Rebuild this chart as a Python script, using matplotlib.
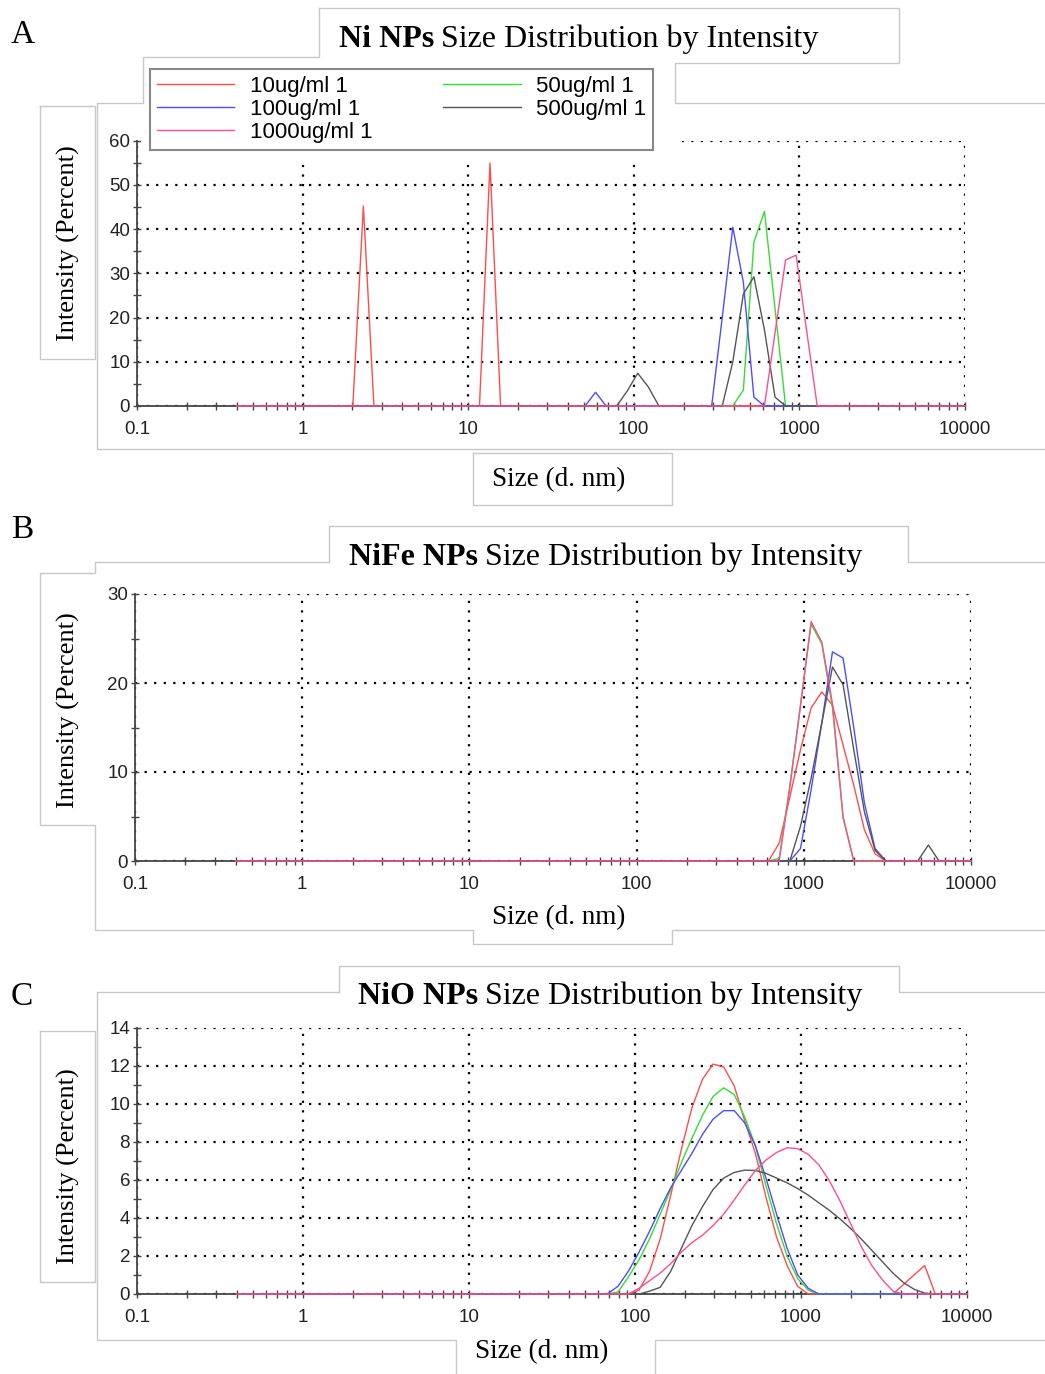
import matplotlib
matplotlib.use("Agg")
import matplotlib.pyplot as plt
from matplotlib.lines import Line2D
from matplotlib.patches import Rectangle
from matplotlib.ticker import (FixedLocator, FixedFormatter, MultipleLocator,
                               LogLocator, NullFormatter)

W, H = 1045, 1374

# size (d. nm) / intensity (%) pairs, one tuple per sample
# A - Ni NPs
ni_10 = ([0.4, 2.010, 2.328, 2.696, 11.70, 13.54, 15.69, 10000],
         [0, 0, 45.2, 0, 0, 54.9, 0, 0])
ni_50 = ([0.4, 396.1, 458.7, 531.2, 615.1, 712.4, 825.0, 10000],
         [0, 0, 3.6, 37, 44, 22, 0, 0])
ni_100 = ([0.4, 50.75, 58.77, 68.06, 295.3, 342.0, 396.1, 458.7, 531.2, 615.1, 10000],
          [0, 0, 3.1, 0, 0, 20, 40.4, 28, 2, 0, 0])
ni_500 = ([0.4, 78.82, 91.28, 105.7, 122.4, 141.8, 342.0, 396.1, 458.7, 531.2,
           615.1, 712.4, 825.0, 10000],
          [0, 0, 3.4, 7.4, 4.3, 0, 0, 10, 25.3, 29.2, 17.2, 2, 0, 0])
ni_1000 = ([0.4, 615.1, 712.4, 825.0, 955.4, 1106, 1281, 10000],
           [0, 0, 16.5, 33, 34.1, 17, 0, 0])

# B - NiFe NPs
nife_10 = ([0.4, 615.1, 712.4, 825.0, 955.4, 1106, 1281, 1484, 1718, 1990, 2305,
            2669, 3091, 10000],
           [0, 0, 2.0, 7.2, 12.5, 17.2, 19.0, 17.5, 13.0, 8.5, 3.5, 0.8, 0, 0])
nife_50 = ([0.4, 615.1, 712.4, 825.0, 955.4, 1106, 1281, 1484, 1718, 1990, 10000],
           [0, 0, 0.3, 8.5, 17.6, 26.6, 24.4, 17.2, 4.8, 0, 0])
nife_100 = ([0.4, 825.0, 955.4, 1106, 1281, 1484, 1718, 1990, 2305, 2669, 3091, 10000],
            [0, 0, 1.4, 8, 15.5, 23.5, 22.8, 15, 6.5, 1.4, 0, 0])
nife_500 = ([0.4, 825.0, 955.4, 1106, 1281, 1484, 1718, 1990, 2305, 2669, 3091,
             4801, 5560, 6439, 10000],
            [0, 0, 3.9, 9.3, 15.5, 21.8, 19.8, 12.5, 5.5, 1.2, 0, 0, 1.8, 0, 0])
nife_1000 = ([0.4, 712.4, 825.0, 955.4, 1106, 1281, 1484, 1718, 1990, 10000],
             [0, 0, 8.2, 17.4, 26.9, 24.6, 17.7, 5.0, 0, 0])

# C - NiO NPs
nio_10 = ([0.4, 91.28, 105.7, 122.4, 141.8, 164.2, 190.1, 220.2, 255.0, 295.3, 342.0,
           396.1, 458.7, 531.2, 615.1, 712.4, 825.0, 955.4, 1106, 3580, 4145,
           4801, 5560, 6439, 10000],
          [0, 0, 0.2, 1.2, 2.9, 5.2, 7.6, 9.8, 11.3, 12.1, 11.95, 10.95, 9.1, 7.4,
           5.1, 3.0, 1.5, 0.4, 0, 0, 0.5, 1.0, 1.5, 0, 0])
nio_50 = ([0.4, 68.06, 78.82, 91.28, 105.7, 122.4, 141.8, 164.2, 190.1, 220.2, 255.0,
           295.3, 342.0, 396.1, 458.7, 531.2, 615.1, 712.4, 825.0, 955.4, 1106,
           1281, 10000],
          [0, 0, 0.1, 0.9, 1.8, 2.9, 4.2, 5.5, 6.9, 8.2, 9.4, 10.4, 10.85, 10.5,
           9.3, 7.8, 5.7, 3.7, 2.0, 0.8, 0.2, 0, 0])
nio_100 = ([0.4, 68.06, 78.82, 91.28, 105.7, 122.4, 141.8, 164.2, 190.1, 220.2, 255.0,
            295.3, 342.0, 396.1, 458.7, 531.2, 615.1, 712.4, 825.0, 955.4, 1106,
            1281, 10000],
           [0, 0, 0.4, 1.2, 2.2, 3.3, 4.5, 5.6, 6.5, 7.4, 8.4, 9.2, 9.65, 9.65,
            9.0, 7.8, 6.1, 4.2, 2.4, 1.0, 0.3, 0, 0])
nio_500 = ([0.4, 105.7, 122.4, 141.8, 164.2, 190.1, 220.2, 255.0, 295.3, 342.0, 396.1,
            458.7, 531.2, 615.1, 712.4, 825.0, 955.4, 1106, 1281, 1484, 1718, 1990,
            2305, 2669, 3091, 3580, 4145, 4801, 5560, 6439, 10000],
           [0, 0, 0.15, 0.35, 1.2, 2.4, 3.6, 4.6, 5.5, 6.1, 6.4, 6.52, 6.5, 6.35,
            6.1, 5.85, 5.55, 5.2, 4.8, 4.4, 3.95, 3.45, 2.9, 2.3, 1.7, 1.1, 0.6,
            0.25, 0.05, 0, 0])
nio_1000 = ([0.4, 91.28, 105.7, 122.4, 141.8, 164.2, 190.1, 220.2, 255.0, 295.3, 342.0,
             396.1, 458.7, 531.2, 615.1, 712.4, 825.0, 955.4, 1106, 1281, 1484,
             1718, 1990, 2305, 2669, 3091, 3580, 4145, 10000],
            [0, 0, 0.3, 0.7, 1.1, 1.6, 2.2, 2.7, 3.1, 3.6, 4.2, 4.95, 5.75, 6.5,
             7.05, 7.45, 7.7, 7.65, 7.35, 6.8, 5.95, 4.9, 3.7, 2.5, 1.5, 0.75, 0.15,
             0, 0])

labels = ["10ug/ml 1", "50ug/ml 1", "100ug/ml 1", "500ug/ml 1", "1000ug/ml 1"]
colors = ["#ff4d4d", "#33dd33", "#4d4dff", "#555555", "#ff4d94"]
size_ticks = [0.1, 1, 10, 100, 1000, 10000]
size_tick_labels = ["0.1", "1", "10", "100", "1000", "10000"]

SERIF = "Liberation Serif"
SANS = "Liberation Sans"
GREY = "#c8c8c8"

fig = plt.figure(figsize=(W / 100, H / 100), dpi=100)
fig.patch.set_facecolor("white")


def fx(x):
    return x / W


def fy(y):
    return 1 - y / H


def make_panel(left, right, y_zero, y_top, series, ymax, ystep, yminor):
    ax = fig.add_axes([fx(left), fy(y_zero), (right - left) / W, (y_zero - y_top) / H])
    handles = []
    for (sizes, vals), c in zip(series, colors):
        ln, = ax.plot(sizes, vals, color=c, lw=1.0, clip_on=False, zorder=3)
        handles.append(ln)
    ax.set_xscale("log")
    ax.set_xlim(0.1, 10000)
    ax.set_ylim(0, ymax)
    ax.xaxis.set_major_locator(FixedLocator(size_ticks))
    ax.xaxis.set_major_formatter(FixedFormatter(size_tick_labels))
    ax.xaxis.set_minor_locator(LogLocator(base=10, subs=range(2, 10), numticks=20))
    ax.xaxis.set_minor_formatter(NullFormatter())
    ax.yaxis.set_major_locator(MultipleLocator(ystep))
    ax.yaxis.set_minor_locator(MultipleLocator(yminor))
    ax.tick_params(which="both", direction="inout", length=6, width=1,
                   color="#444444", labelsize=13.5, labelcolor="#222222")
    ax.tick_params(axis="x", pad=8)
    ax.tick_params(axis="y", pad=2)
    for lab in ax.get_xticklabels() + ax.get_yticklabels():
        lab.set_family(SANS)
    ax.grid(True, which="major", color="black", linestyle=(0, (1, 3.3)), linewidth=1.6)
    for s in ("top", "right"):
        ax.spines[s].set_visible(False)
    for s in ("left", "bottom"):
        ax.spines[s].set_color("#444444")
        ax.spines[s].set_linewidth(1.3)
    return ax, handles


def frame(points, lw=1.0):
    xs = [fx(p[0]) for p in points]
    ys = [fy(p[1]) for p in points]
    fig.add_artist(Line2D(xs, ys, color=GREY, lw=lw, zorder=7))


def two_part_title(x, y, bold, rest):
    t = fig.text(fx(x), fy(y), bold, fontsize=23, fontweight="bold", family=SERIF,
                 va="baseline", ha="left")
    fig.canvas.draw()
    bb = t.get_window_extent(fig.canvas.get_renderer())
    fig.text(fx(bb.x1 + 7), fy(y), rest, fontsize=23, family=SERIF,
             va="baseline", ha="left")


# ---- panel A ----
axA, hA = make_panel(137, 965, 406, 140.5, [ni_10, ni_50, ni_100, ni_500, ni_1000], 60, 10, 5)
# ---- panel B ----
axB, hB = make_panel(135, 971, 861, 594, [nife_10, nife_50, nife_100, nife_500, nife_1000], 30, 10, 5)
# ---- panel C ----
axC, hC = make_panel(137, 967, 1294, 1028, [nio_10, nio_50, nio_100, nio_500, nio_1000], 14, 2, 1)

# white mask behind the legend (hides the grid there)
fig.add_artist(Rectangle((fx(141), fy(159)), (682 - 141) / W, (159 - 57) / H,
                         transform=fig.transFigure, facecolor="white",
                         edgecolor="none", zorder=4))

order = [0, 2, 4, 1, 3]
leg = fig.legend([hA[i] for i in order], [labels[i] for i in order], ncol=2,
                 loc="upper left", mode="expand", borderaxespad=0,
                 bbox_to_anchor=(fx(150), fy(148), (653 - 150) / W, (148 - 69) / H),
                 prop={"family": SANS, "size": 16}, frameon=True, fancybox=False,
                 edgecolor="#888888", framealpha=1, handlelength=3.5,
                 handletextpad=0.7, labelspacing=0.1, borderpad=0.3)
leg.get_frame().set_linewidth(1.5)
leg.set_zorder(6)

# frames (grey outlines of the software panels)
frame([(319, 8), (899, 8), (899, 63), (675, 63), (675, 103), (1045, 103)])
frame([(319, 8), (319, 57), (143, 57), (143, 103), (97, 103), (97, 449), (1045, 449)])
frame([(40, 106), (95, 106), (95, 359), (40, 359), (40, 106)])
frame([(473, 453), (672, 453), (672, 505), (473, 505), (473, 453)])

frame([(329, 562), (329, 526), (908, 526), (908, 562), (1045, 562)])
frame([(329, 562), (95, 562), (95, 573), (40, 573), (40, 825), (95, 825), (95, 930),
       (473, 930), (473, 944), (672, 944), (672, 930), (1045, 930)])

frame([(339, 992), (339, 966), (899, 966), (899, 992), (1045, 992)])
frame([(339, 992), (97, 992), (97, 1340), (456, 1340), (456, 1374)])
frame([(655, 1374), (655, 1340), (1045, 1340)])
frame([(40, 1031), (95, 1031), (95, 1282), (40, 1282), (40, 1031)])

# panel letters
for letter, yb in [("A", 43), ("B", 538), ("C", 1005)]:
    fig.text(fx(11), fy(yb), letter, fontsize=24, family=SERIF, va="baseline", ha="left")

# titles
two_part_title(339, 47, "Ni NPs", "Size Distribution by Intensity")
two_part_title(349, 565, "NiFe NPs", "Size Distribution by Intensity")
two_part_title(358, 1004, "NiO NPs", "Size Distribution by Intensity")

# axis labels
for yc in (243, 710, 1166):
    fig.text(fx(68), fy(yc), "Intensity (Percent)", rotation=90, fontsize=19,
             family=SERIF, ha="center", va="center")
for xc, yc in [(559, 480), (559, 918), (542, 1352)]:
    fig.text(fx(xc), fy(yc), "Size (d. nm)", fontsize=19.5, family=SERIF,
             ha="center", va="center")

fig.savefig("out.png", dpi=100, facecolor="white")
